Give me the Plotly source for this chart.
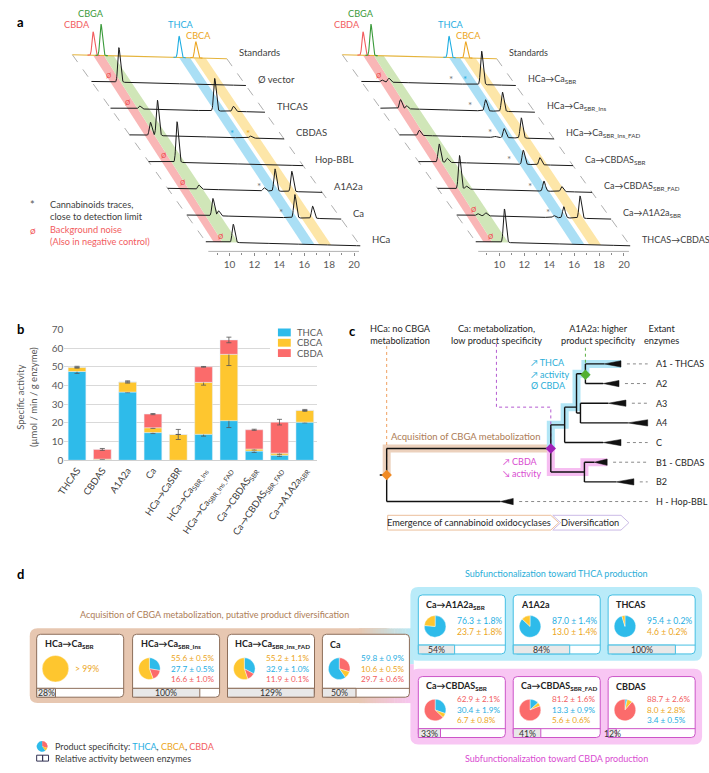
import numpy as np
import plotly.graph_objects as go

W, H = 709, 773
FONT = "Lato"
DARK = "#262626"
GREY = "#595959"

C_THCA, C_CBCA, C_CBDA = "#2ebbea", "#fec62f", "#fb6b6b"
T_THCA, T_CBCA, T_CBDA, T_CBGA = "#1faee2", "#eca623", "#f25c5e", "#3a9a3a"
TAN, TAN_TXT, TAN_EDGE = "#e7c7b1", "#ad7d57", "#8d6e5a"
SKY, SKY_TXT, SKY_EDGE = "#b9ebf9", "#2aaed8", "#45bfe3"
PINK, PINK_TXT, PINK_EDGE = "#f8c6f3", "#d94bd1", "#cc55c8"
PROD_COL = {"THCA": C_THCA, "CBCA": C_CBCA, "CBDA": C_CBDA}
PROD_TXT = {"THCA": T_THCA, "CBCA": T_CBCA, "CBDA": T_CBDA, "CBGA": T_CBGA}


def fx(p):
    return p / W


def fy(p):
    return 1 - p / H


# ---------------- panel a : chromatograms ----------------
std_names = ["CBDA", "CBGA", "THCA", "CBCA"]
std_rt = [9.76, 10.39, 16.66, 18.0]
std_height = [23, 31, 21, 16]

left_samples = ["Ø vector", "THCAS", "CBDAS", "Hop-BBL", "A1A2a", "Ca", "HCa"]
left_peak_rt = [[10.3], [10.43, 16.46, 17.97], [9.77, 10.33, 17.79], [10.38],
                [10.6, 15.84, 16.71, 18.06], [10.2, 10.65, 16.77, 18.2], [10.3]]
left_peak_h = [[34], [3, 32, 5], [13, 35, 2], [40], [4, 3, 22, 20], [17, 5, 23, 12], [18]]
left_marks = [(1, 9.5, "ø", "noise"), (2, 9.48, "ø", "noise"), (3, 16.36, "*", "THCA"),
              (3, 17.63, "*", "CBCA"), (4, 9.35, "ø", "noise"), (5, 9.33, "ø", "noise"),
              (5, 15.44, "*", "trace"), (6, 15.66, "*", "trace"), (7, 9.29, "ø", "noise")]

right_samples = ["HCa→Ca<sub>SBR</sub>", "HCa→Ca<sub>SBR_Ins</sub>", "HCa→Ca<sub>SBR_Ins_FAD</sub>",
                 "Ca→CBDAS<sub>SBR</sub>", "Ca→CBDAS<sub>SBR_FAD</sub>", "Ca→A1A2a<sub>SBR</sub>",
                 "THCAS→CBDAS"]
right_peak_rt = [[9.74, 10.3, 17.75], [9.71, 10.2, 16.54, 17.89], [9.69, 15.8, 16.5, 17.87],
                 [9.75, 10.4, 16.5, 17.84], [9.85, 10.4, 16.63, 18.06],
                 [9.78, 10.42, 15.9, 16.69, 18.0], [10.4]]
right_peak_h = [[2, 4, 33], [9, 3, 11, 19], [5, 1, 9, 20], [18, 4, 14, 7], [33, 3, 10, 5],
                [2, 3, 2, 11, 22], [33]]
right_marks = [(1, 9.5, "ø", "noise"), (1, 15.29, "*", "trace"), (1, 16.4, "*", "THCA"),
               (2, 15.27, "*", "trace"), (3, 15.33, "*", "trace"), (4, 15.38, "*", "trace"),
               (5, 15.52, "*", "trace"), (6, 9.47, "ø", "noise"), (6, 15.42, "*", "trace"),
               (7, 9.29, "ø", "noise")]

# ---------------- panel b : specific activity ----------------
bar_names = ["THCAS", "CBDAS", "A1A2a", "Ca", "HCa→CaSBR", "HCa→Ca<sub>SBR_Ins</sub>",
             "HCa→Ca<sub>SBR_Ins_FAD</sub>", "Ca→CBDAS<sub>SBR</sub>", "Ca→CBDAS<sub>SBR_FAD</sub>",
             "Ca→A1A2a<sub>SBR</sub>"]
thca_act = [47.5, 0.2, 36.5, 14.8, 0.0, 13.9, 21.2, 4.9, 2.7, 20.4]
cbca_act = [2.3, 0.4, 5.4, 2.6, 13.8, 27.8, 35.5, 1.1, 1.1, 6.3]
cbda_act = [0.0, 5.2, 0.0, 7.3, 0.0, 8.3, 7.7, 10.3, 16.6, 0.0]
thca_err = [1.0, 0.2, 0.3, 0.5, 0.0, 1.0, 3.7, 0.7, 0.6, 0.4]
cbca_err = [0.5, 0.2, 0.6, 0.4, 2.7, 1.5, 6.0, 0.5, 0.6, 0.5]
cbda_err = [0.0, 0.5, 0.0, 0.3, 0.0, 0.2, 1.5, 0.3, 1.5, 0.0]

# ---------------- panel c : tree ----------------
tip_names = ["A1 - THCAS", "A2", "A3", "A4", "C", "B1 - CBDAS", "B2", "H - Hop-BBL"]
tip_row = [0, 1, 2, 3, 4, 5, 6, 7]
clade_start = [603, 602, 607, 627, 602, 593, 615, 498]
clade_end = [620, 618, 625, 647, 620, 606, 633, 511]
node_depth = {"root": 383, "P": 549, "X": 563, "Y": 575, "G": 584, "A34": 579, "B": 583}
node_row = {"root": 5.65, "P": 4.3, "X": 3.1, "Y": 2.2, "G": 0.5, "A34": 2.5, "B": 5.5}
children = {"root": ["P", "H - Hop-BBL"], "P": ["X", "B"], "X": ["Y", "C"],
            "Y": ["G", "A34"], "G": ["A1 - THCAS", "A2"], "A34": ["A3", "A4"],
            "B": ["B1 - CBDAS", "B2"]}

# ---------------- panel d : enzyme cards ----------------
card_names = ["HCa→Ca<sub>SBR</sub>", "HCa→Ca<sub>SBR_Ins</sub>", "HCa→Ca<sub>SBR_Ins_FAD</sub>", "Ca",
              "Ca→A1A2a<sub>SBR</sub>", "A1A2a", "THCAS",
              "Ca→CBDAS<sub>SBR</sub>", "Ca→CBDAS<sub>SBR_FAD</sub>", "CBDAS"]
thca_pct = [0.0, 27.7, 32.9, 59.8, 76.3, 87.0, 95.4, 30.4, 13.3, 3.4]
cbca_pct = [100.0, 55.6, 55.2, 10.6, 23.7, 13.0, 4.6, 6.7, 5.6, 8.0]
cbda_pct = [0.0, 16.6, 11.9, 29.7, 0.0, 0.0, 0.0, 62.9, 81.2, 88.7]
thca_sd = [0.0, 0.5, 1.0, 0.9, 1.8, 1.4, 0.2, 1.9, 0.9, 0.5]
cbca_sd = [0.0, 0.5, 1.1, 0.5, 1.8, 1.4, 0.2, 0.8, 0.6, 2.8]
cbda_sd = [0.0, 1.0, 0.1, 0.6, 0.0, 0.0, 0.0, 2.1, 1.6, 2.6]
rel_activity = [28, 100, 129, 50, 54, 84, 100, 33, 41, 12]
card_text_order = [["CBCA"], ["CBCA", "THCA", "CBDA"], ["CBCA", "THCA", "CBDA"], ["THCA", "CBCA", "CBDA"],
                   ["THCA", "CBCA"], ["THCA", "CBCA"], ["THCA", "CBCA"],
                   ["CBDA", "THCA", "CBCA"], ["CBDA", "THCA", "CBCA"], ["CBDA", "CBCA", "THCA"]]
card_pie_order = [["CBCA"], ["THCA", "CBDA", "CBCA"], ["THCA", "CBDA", "CBCA"], ["CBDA", "CBCA", "THCA"],
                  ["THCA", "CBCA"], ["THCA", "CBCA"], ["THCA", "CBCA"],
                  ["THCA", "CBCA", "CBDA"], ["THCA", "CBCA", "CBDA"], ["THCA", "CBCA", "CBDA"]]
legend_pie = [60, 10, 30]

card_left = [29, 126, 222, 318, 415, 511, 607, 415, 511, 607]
card_top = [638] * 4 + [598] * 3 + [681] * 3
card_h = [64] * 4 + [60] * 3 + [62] * 3
card_edge = [TAN_EDGE] * 4 + [SKY_EDGE] * 3 + [PINK_EDGE] * 3
pie_dy = [35] * 4 + [32] * 3 + [34] * 3
pie_r = [13.5] + [11] * 9
CARD_W, STRIP = 88, 9

fig = go.Figure()
ann, shapes = [], []


def note(x, y, s, size=9.5, color=DARK, xa="paper", ya="paper", anchor="center", **kw):
    if xa == "paper":
        x, y = fx(x), fy(y)
    ann.append(dict(x=x, y=y, xref=xa, yref=ya, text=s, showarrow=False, xanchor=anchor,
                    yanchor="middle", align=anchor, font=dict(family=FONT, size=size, color=color), **kw))


# ---- panel a ----
RT = np.arange(8.1, 20.5001, 0.02)
SHIFT, ROW, TOP, TILT = 1.53, 26.3, 55.0, 0.32
band_top = {"CBDA": (-0.95, -0.08), "CBGA": (-0.08, 0.71), "THCA": (5.95, 6.83), "CBCA": (7.14, 8.1)}
band_bot = {"CBDA": (8.73, 9.44), "CBGA": (9.44, 10.71), "THCA": (15.87, 16.83), "CBCA": (17.22, 18.17)}
band_col = {"CBDA": "#f9b6b6", "CBGA": "#d0e6b8", "THCA": "#aadff5", "CBCA": "#fde6a8"}
std_label_dx = [-1.25, -0.8, 0.15, 0.2]
std_label_dy = [7, 10, 12, 6]


def baseline(i, t):
    return -(TOP + ROW * i + TILT * (np.asarray(t) - RT[0]))


def xpos(i, t):
    return np.asarray(t) - (7 - i) * SHIFT


def signal(t, rts, hs):
    s = np.zeros_like(t)
    for rt, h in zip(rts, hs):
        sd = np.where(t < rt, 0.085, 0.12)
        s = s + h * np.exp(-0.5 * ((t - rt) / sd) ** 2)
    return s


for xa, ya, names, p_rt, p_h, marks in [("x", "y", left_samples, left_peak_rt, left_peak_h, left_marks),
                                        ("x2", "y2", right_samples, right_peak_rt, right_peak_h, right_marks)]:
    for comp in ["CBDA", "CBGA", "THCA", "CBCA"]:
        (a0, a1), (b0, b1) = band_top[comp], band_bot[comp]
        yt0, yt1 = baseline(0, a0 + 7 * SHIFT), baseline(0, a1 + 7 * SHIFT)
        yb0, yb1 = baseline(7, b0), baseline(7, b1)
        fig.add_trace(go.Scatter(x=[a0, a1, b1, b0, a0], y=[yt0, yt1, yb1, yb0, yt0], fill="toself",
                                 fillcolor=band_col[comp], line_width=0, mode="lines",
                                 xaxis=xa, yaxis=ya, hoverinfo="skip"))
    for t in (RT[0], RT[-1]):
        fig.add_trace(go.Scatter(x=[xpos(0, t), xpos(7, t)], y=[baseline(0, t), baseline(7, t)],
                                 mode="lines", line=dict(color="#9a9a9a", width=0.8, dash="dash"),
                                 xaxis=xa, yaxis=ya, hoverinfo="skip"))
    fig.add_trace(go.Scatter(x=xpos(0, RT), y=baseline(0, RT), mode="lines",
                             line=dict(color="#e5b43c", width=1.1), xaxis=xa, yaxis=ya, hoverinfo="skip"))
    for k, comp in enumerate(std_names):
        tw = RT[(RT > std_rt[k] - 0.45) & (RT < std_rt[k] + 0.55)]
        fig.add_trace(go.Scatter(x=xpos(0, tw), y=baseline(0, tw) + signal(tw, [std_rt[k]], [std_height[k]]),
                                 mode="lines", line=dict(color=PROD_TXT[comp], width=1.1),
                                 xaxis=xa, yaxis=ya, hoverinfo="skip"))
        note(float(xpos(0, std_rt[k])) + std_label_dx[k],
             float(baseline(0, std_rt[k])) + std_height[k] + std_label_dy[k],
             comp, size=9.2, color=PROD_TXT[comp], xa=xa, ya=ya)
    lab_size = 9.5 if xa == "x" else 9
    note(float(xpos(0, RT[-1])) + 0.8, -(TOP - 2), "Standards", size=lab_size, color="#404040",
         xa=xa, ya=ya, anchor="left")
    for i in range(1, 8):
        fig.add_trace(go.Scatter(x=xpos(i, RT), y=baseline(i, RT) + signal(RT, p_rt[i - 1], p_h[i - 1]),
                                 mode="lines", line=dict(color="#1a1a1a", width=1.0),
                                 xaxis=xa, yaxis=ya, hoverinfo="skip"))
        note(float(xpos(i, RT[-1])) + 0.8, -(TOP - 2 + ROW * i), names[i - 1], size=lab_size,
             color="#404040", xa=xa, ya=ya, anchor="left")
    for i, rt, sym, kind in marks:
        col = {"noise": "#f0585a", "trace": "#777777"}.get(kind, PROD_TXT.get(kind))
        note(float(xpos(i, rt)), float(baseline(i, rt)) + (7 if sym == "ø" else 5), sym,
             size=9.5 if sym == "ø" else 10, color=col, xa=xa, ya=ya)
    shapes.append(dict(type="line", xref=xa, yref=ya, x0=8.3, x1=20.4, y0=-248.6, y1=-248.6,
                       line=dict(color="#9a9a9a", width=1)))
    note(14.35, -272, "Retention time (min)", size=9.5, color=GREY, xa=xa, ya=ya)


def rt_axis(p0, p1, p10):
    # pixel extent of the panel and pixel of the 10 min tick -> axis in minutes
    return dict(domain=[fx(p0), fx(p1)], range=[10 + (p0 - p10) / 12.6, 10 + (p1 - p10) / 12.6],
                showgrid=False, zeroline=False, showline=False, tickvals=list(range(10, 21, 2)),
                ticks="outside", ticklen=3, tickcolor="#8a8a8a",
                tickfont=dict(family=FONT, size=10, color=GREY),
                minor=dict(tickvals=list(range(9, 20, 2)), ticks="outside", ticklen=2, tickcolor="#8a8a8a"))


ay_a = dict(range=[-249, -8], visible=False, domain=[fy(249), fy(0)])

# ---- panel b ----
base_cbca = [a for a in thca_act]
base_cbda = [a + b for a, b in zip(thca_act, cbca_act)]
for name, vals, base, err, col in [("THCA", thca_act, None, thca_err, C_THCA),
                                   ("CBCA", cbca_act, base_cbca, cbca_err, C_CBCA),
                                   ("CBDA", cbda_act, base_cbda, cbda_err, C_CBDA)]:
    fig.add_trace(go.Bar(x=bar_names, y=vals, base=base, name=name, marker_color=col, width=0.7,
                         error_y=dict(type="data", array=err, color="#555555", thickness=0.8, width=2.5),
                         xaxis="x3", yaxis="y3", hoverinfo="skip"))
note(19, 397, "Specific activity<br>(µmol / min / g enzyme)", size=9.5, color=GREY, textangle=-90)
shapes.append(dict(type="rect", xref="x5", yref="y5", x0=265, x1=330, y0=323, y1=358,
                   fillcolor="white", line_width=0, layer="above"))
for k, (name, col) in enumerate([("THCA", C_THCA), ("CBCA", C_CBCA), ("CBDA", C_CBDA)]):
    yc = 331 + 10.5 * k
    shapes.append(dict(type="rect", xref="x5", yref="y5", x0=273, x1=286, y0=yc - 4, y1=yc + 4,
                       fillcolor=col, line_width=0, layer="above"))
    note(290, yc, name, size=9.5, color=GREY, anchor="left")

# ---- panel c ----
def trow(name):
    return tip_row[tip_names.index(name)] if name in tip_names else node_row[name]


def tdepth_start(name):
    return clade_start[tip_names.index(name)] if name in tip_names else node_depth[name]


def path_xy(nodes):
    xs, ys = [node_depth[nodes[0]]], [node_row[nodes[0]]]
    for par, ch in zip(nodes[:-1], nodes[1:]):
        end = clade_end[tip_names.index(ch)] if ch in tip_names else node_depth[ch]
        xs += [node_depth[par], end]
        ys += [trow(ch), trow(ch)]
    return xs, ys


for nodes, col in [(["root", "P"], "#ecd1bd"), (["P", "X", "Y", "G", "A1 - THCAS"], "#b2e6f6"),
                   (["P", "B", "B1 - CBDAS"], "#f6bdf1")]:
    xs, ys = path_xy(nodes)
    fig.add_trace(go.Scatter(x=xs, y=ys, mode="lines", line=dict(color=col, width=8),
                             xaxis="x4", yaxis="y4", hoverinfo="skip"))

for xs, ys, col in [([383, 383], [5.65, -1.15], "#f0a060"),
                    ([549, 549, 494, 494], [4.3, 2.2, 2.2, -1.1], "#b45ad0"),
                    ([584, 584], [0.55, -0.9], "#5cb040")]:
    fig.add_trace(go.Scatter(x=xs, y=ys, mode="lines", line=dict(color=col, width=1, dash="dot"),
                             xaxis="x4", yaxis="y4", hoverinfo="skip"))

tx, ty = [376, 383, None], [5.65, 5.65, None]
for par, kids in children.items():
    d = node_depth[par]
    rows = [trow(k) for k in kids]
    tx += [d, d, None]
    ty += [min(rows), max(rows), None]
    for k in kids:
        tx += [d, tdepth_start(k), None]
        ty += [trow(k), trow(k), None]
fig.add_trace(go.Scatter(x=tx, y=ty, mode="lines", line=dict(color="#111111", width=1.4),
                         xaxis="x4", yaxis="y4", hoverinfo="skip"))
for k, name in enumerate(tip_names):
    r = tip_row[k]
    fig.add_trace(go.Scatter(x=[clade_start[k], clade_end[k], clade_end[k], clade_start[k]],
                             y=[r, r - 0.16, r + 0.16, r], fill="toself", fillcolor="#111111",
                             mode="lines", line=dict(color="#111111", width=0.5),
                             xaxis="x4", yaxis="y4", hoverinfo="skip"))
    if clade_end[k] < 642:
        fig.add_trace(go.Scatter(x=[clade_end[k] + 6, 647], y=[r, r], mode="lines",
                                 line=dict(color="#8a8a8a", width=1, dash="dot"),
                                 xaxis="x4", yaxis="y4", hoverinfo="skip"))
    note(653, r, name, size=9, color=DARK, xa="x4", ya="y4", anchor="left")
fig.add_trace(go.Scatter(x=[node_depth["root"], node_depth["P"], node_depth["G"]],
                         y=[node_row["root"], node_row["P"], 0.55], mode="markers",
                         marker=dict(symbol="diamond", size=8, color=["#f08a24", "#a020b8", "#52b032"]),
                         xaxis="x4", yaxis="y4", hoverinfo="skip"))

note(397, -1.52, "HCa: no CBGA<br>metabolization", size=9.2, xa="x4", ya="y4")
note(494, -1.52, "Ca: metabolization,<br>low product specificity", size=9.2, xa="x4", ya="y4")
note(597, -1.52, "A1A2a: higher<br>product specificity", size=9.2, xa="x4", ya="y4")
note(661, -1.52, "Extant<br>enzymes", size=9.2, xa="x4", ya="y4")
note(527, 0.5, "↗ THCA<br>↗ activity<br>Ø CBDA", size=9, color=SKY_TXT, xa="x4", ya="y4", anchor="left")
note(499, 5.27, "↗ CBDA<br>↘ activity", size=9, color=PINK_TXT, xa="x4", ya="y4", anchor="left")
note(463, 3.7, "Acquisition of CBGA metabolization", size=9.5, color=TAN_TXT, xa="x4", ya="y4")

for xs, ys, edge in [([384, 549, 557, 549, 384, 384], [517, 517, 524.5, 532, 532, 517], "#ecbf9c"),
                     ([551, 620, 628, 620, 551, 559, 551], [517, 517, 524.5, 532, 532, 524.5, 517], "#cbbbe6")]:
    fig.add_trace(go.Scatter(x=xs, y=ys, fill="toself", fillcolor="white", mode="lines",
                             line=dict(color=edge, width=1), xaxis="x5", yaxis="y5", hoverinfo="skip"))
note(466, 524.5, "Emergence of cannabinoid oxidocyclases", size=9.2)
note(589, 524.5, "Diversification", size=9.2)

# ---- panel d ----
def rrect(x0, y0, x1, y1, r):
    return (f"M{x0 + r},{y0} L{x1 - r},{y0} Q{x1},{y0} {x1},{y0 + r} L{x1},{y1 - r} "
            f"Q{x1},{y1} {x1 - r},{y1} L{x0 + r},{y1} Q{x0},{y1} {x0},{y1 - r} "
            f"L{x0},{y0 + r} Q{x0},{y0} {x0 + r},{y0} Z")


def mix(c0, c1, f):
    a = [int(c0[i:i + 2], 16) for i in (1, 3, 5)]
    b = [int(c1[i:i + 2], 16) for i in (1, 3, 5)]
    return "#%02x%02x%02x" % tuple(round(p + (q - p) * f) for p, q in zip(a, b))


shapes.append(dict(type="path", xref="x5", yref="y5", path=rrect(22, 632, 390, 708, 8),
                   fillcolor=TAN, line_width=0, layer="below"))
shapes.append(dict(type="path", xref="x5", yref="y5", path=rrect(407, 590, 702, 665, 8),
                   fillcolor=SKY, line_width=0, layer="below"))
shapes.append(dict(type="path", xref="x5", yref="y5", path=rrect(407, 673, 702, 750, 8),
                   fillcolor=PINK, line_width=0, layer="below"))
N_FADE = 20
for j in range(N_FADE):
    xa0 = 355 + 55 * j / N_FADE
    for y0, y1, col in [(632, 668.5, SKY), (668.5, 708, PINK)]:
        shapes.append(dict(type="rect", xref="x5", yref="y5", x0=xa0, x1=xa0 + 55 / N_FADE + 0.4,
                           y0=y0, y1=y1, fillcolor=mix(TAN, col, (j + 0.5) / N_FADE),
                           line_width=0, layer="below"))

note(209, 618, "Acquisition of CBGA metabolization, putative product diversification", size=9,
     color=TAN_TXT)
note(555, 576, "Subfunctionalization toward THCA production", size=9, color=SKY_TXT)
note(555, 764, "Subfunctionalization toward CBDA production", size=9, color=PINK_TXT)

pct = {"THCA": thca_pct, "CBCA": cbca_pct, "CBDA": cbda_pct}
sd = {"THCA": thca_sd, "CBCA": cbca_sd, "CBDA": cbda_sd}
for c, name in enumerate(card_names):
    x0, y0 = card_left[c], card_top[c]
    x1, y1 = x0 + CARD_W, y0 + card_h[c]
    shapes.append(dict(type="path", xref="x5", yref="y5", path=rrect(x0, y0, x1, y1, 4),
                       fillcolor="white", line=dict(color=card_edge[c], width=1), layer="below"))
    shapes.append(dict(type="line", xref="x5", yref="y5", x0=x0, x1=x1, y0=y1 - STRIP, y1=y1 - STRIP,
                       line=dict(color=card_edge[c], width=1), layer="below"))
    note(x0 + 6, y0 + 10, f"<b>{name}</b>", size=9, color="#222222", anchor="left")
    cx, cy, r = x0 + 17 + (2 if c == 0 else 0), y0 + pie_dy[c], pie_r[c]
    order = card_pie_order[c]
    fig.add_trace(go.Pie(values=[pct[p][c] for p in order], labels=order, sort=False,
                         direction="clockwise", rotation=0, textinfo="none", hoverinfo="skip",
                         marker=dict(colors=[PROD_COL[p] for p in order], line=dict(color="white", width=0.4)),
                         domain=dict(x=[fx(cx - r), fx(cx + r)], y=[fy(cy + r), fy(cy - r)])))
    lines = []
    for p in card_text_order[c]:
        s = "&gt; 99%" if c == 0 else f"{pct[p][c]:.1f} ± {sd[p][c]:.1f}%"
        lines.append(f"<span style='color:{PROD_TXT[p]}'>{s}</span>")
    note(x0 + 37, cy, "<br>".join(lines), size=8.2 if len(lines) == 3 else 8.6, anchor="left")
    fill = min(rel_activity[c] * 0.68, CARD_W)
    note(x0 + fill / 2, y1 - STRIP / 2, f"{rel_activity[c]}%", size=8.7, color="#333333")

strip_y = [card_top[c] + card_h[c] - STRIP / 2 for c in range(len(card_names))]
fig.add_trace(go.Bar(y=strip_y, x=[min(v * 0.68, CARD_W) for v in rel_activity], base=card_left,
                     orientation="h", width=STRIP, marker=dict(color="#e8e8e8", line=dict(color=card_edge, width=1)),
                     xaxis="x5", yaxis="y5", hoverinfo="skip"))

fig.add_trace(go.Pie(values=[legend_pie[2], legend_pie[1], legend_pie[0]], labels=["CBDA", "CBCA", "THCA"],
                     sort=False, direction="clockwise", textinfo="none", hoverinfo="skip",
                     marker=dict(colors=[C_CBDA, C_CBCA, C_THCA]),
                     domain=dict(x=[fx(29), fx(40)], y=[fy(757.5), fy(746.5)])))
shapes.append(dict(type="rect", xref="x5", yref="y5", x0=29, x1=35, y0=761, y1=767,
                   line=dict(color="#333355", width=1)))
shapes.append(dict(type="rect", xref="x5", yref="y5", x0=35, x1=41, y0=761, y1=767,
                   line=dict(color="#333355", width=1)))
note(46, 752, "Product specificity: <span style='color:%s'>THCA</span>, <span style='color:%s'>CBCA</span>, "
     "<span style='color:%s'>CBDA</span>" % (T_THCA, T_CBCA, T_CBDA), size=9, color="#404040", anchor="left")
note(46, 764, "Relative activity between enzymes", size=9, color="#404040", anchor="left")

note(25, 201, "*", size=11, color="#555555")
note(40, 207, "Cannabinoids traces,<br>close to detection limit", size=9.2, color="#404040", anchor="left")
note(25, 227, "ø", size=10, color=T_CBDA)
note(40, 232, "Background noise<br>(Also in negative control)", size=9.2, color=T_CBDA, anchor="left")

for s, x, y in [("a", 13, 15), ("b", 13, 328), ("c", 348, 330), ("d", 13, 577)]:
    note(x, y, f"<b>{s}</b>", size=13, color="black")

fig.update_layout(
    width=W, height=H, margin=dict(l=0, r=0, t=0, b=0), showlegend=False, hovermode=False,
    paper_bgcolor="white", plot_bgcolor="rgba(0,0,0,0)", barmode="overlay",
    font=dict(family=FONT, color=DARK),
    xaxis=dict(rt_axis(0, 385, 224), anchor="y"),
    yaxis=dict(ay_a, anchor="x"),
    xaxis2=dict(rt_axis(273, 709, 497), anchor="y2"),
    yaxis2=dict(ay_a, anchor="x2"),
    xaxis3=dict(domain=[fx(57), fx(313)], anchor="y3", showgrid=False, showline=True,
                linecolor="#d0d0d0", tickangle=-55, ticks="",
                tickfont=dict(family=FONT, size=9.5, color="#404040")),
    yaxis3=dict(domain=[fy(461), fy(328)], anchor="x3", range=[0, 70], dtick=10, gridcolor="#d9d9d9",
                zeroline=False, tickfont=dict(family=FONT, size=10, color=GREY)),
    xaxis4=dict(domain=[fx(370), fx(709)], range=[370, 709], anchor="y4", visible=False),
    yaxis4=dict(domain=[fy(540), fy(318)], range=[8.85, -2.25], anchor="x4", visible=False),
    xaxis5=dict(domain=[0, 1], range=[0, W], anchor="y5", visible=False),
    yaxis5=dict(domain=[0, 1], range=[H, 0], anchor="x5", visible=False),
    annotations=ann, shapes=shapes,
)

fig.write_html("out.html", config={"displayModeBar": False},
               post_script="document.body.style.margin='0px';")
